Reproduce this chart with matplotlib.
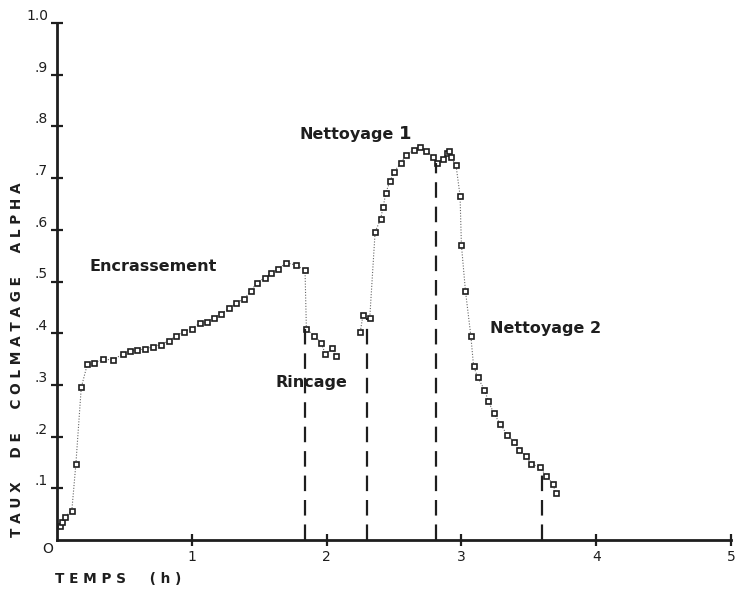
import matplotlib
matplotlib.use("Agg")
import matplotlib.pyplot as plt
from matplotlib import transforms

plt.rcParams["font.family"] = ["DejaVu Sans"]

# fouling + rinsing run (hours, alpha)
foul_t = [0.02, 0.04, 0.06, 0.11, 0.14, 0.18, 0.225, 0.276, 0.343, 0.417, 0.486,
          0.54, 0.59, 0.652, 0.714, 0.77, 0.83, 0.886, 0.94, 0.998, 1.06, 1.11,
          1.163, 1.22, 1.276, 1.33, 1.39, 1.44, 1.48, 1.54, 1.59, 1.64, 1.70,
          1.77, 1.84]
foul_a = [0.027, 0.035, 0.045, 0.057, 0.147, 0.295, 0.340, 0.342, 0.350, 0.348,
          0.360, 0.366, 0.368, 0.369, 0.374, 0.378, 0.385, 0.395, 0.403, 0.409,
          0.419, 0.422, 0.430, 0.438, 0.448, 0.458, 0.467, 0.482, 0.497, 0.507,
          0.516, 0.524, 0.536, 0.532, 0.522]
rinse_t = [1.85, 1.91, 1.96, 1.99, 2.04, 2.07]
rinse_a = [0.408, 0.395, 0.381, 0.360, 0.371, 0.356]

# cleaning run
clean_t = [2.25, 2.27, 2.32, 2.36, 2.40, 2.42, 2.44, 2.47, 2.50, 2.55, 2.59,
           2.65, 2.69, 2.74, 2.79, 2.82, 2.86, 2.89, 2.91, 2.92, 2.96, 2.99,
           3.00, 3.03, 3.07, 3.09, 3.12, 3.17, 3.20, 3.24, 3.29, 3.34, 3.39,
           3.43, 3.48, 3.52, 3.58, 3.63, 3.68, 3.70]
clean_a = [0.403, 0.435, 0.429, 0.596, 0.620, 0.645, 0.672, 0.694, 0.712, 0.729,
           0.745, 0.754, 0.761, 0.753, 0.741, 0.729, 0.737, 0.748, 0.753, 0.741,
           0.725, 0.666, 0.571, 0.482, 0.395, 0.337, 0.315, 0.291, 0.269, 0.245,
           0.224, 0.203, 0.190, 0.175, 0.162, 0.147, 0.141, 0.124, 0.108, 0.090]

# phase boundaries (hours) and height of each dashed marker
bound_t = [1.84, 2.30, 2.81, 3.60]
bound_top = [0.41, 0.43, 0.73, 0.135]

y_ticks = [0.1, 0.2, 0.3, 0.4, 0.5, 0.6, 0.7, 0.8, 0.9, 1.0]
y_tick_labels = [".1", ".2", ".3", ".4", ".5", ".6", ".7", ".8", ".9", "1.0"]
x_ticks = [1, 2, 3, 4, 5]

INK = "#1e1e1e"

fig = plt.figure(figsize=(7.36, 5.92), dpi=100)
ax = fig.add_axes([57 / 736, 52 / 592, 674 / 736, 517 / 592])
ax.set_xlim(0, 5)
ax.set_ylim(0, 1.0)
for s in ["top", "right"]:
    ax.spines[s].set_visible(False)
for s in ["left", "bottom"]:
    ax.spines[s].set_linewidth(2.0)
    ax.spines[s].set_color(INK)

line_kw = dict(color="#666666", lw=0.8, ls=(0, (1, 1.5)), marker="s", ms=3.6,
               mfc="white", mec=INK, mew=1.2, clip_on=False)
ax.plot(foul_t + rinse_t, foul_a + rinse_a, **line_kw)
ax.plot(clean_t, clean_a, **line_kw)

ax.vlines(bound_t, 0, bound_top, colors=INK, lw=1.6, linestyles=(0, (7, 4)))

ax.set_yticks(y_ticks)
ax.set_yticklabels(y_tick_labels, fontsize=10, color=INK)
for lab in ax.get_yticklabels():
    lab.set_verticalalignment("bottom")
ax.set_xticks(x_ticks)
ax.set_xticklabels([str(v) for v in x_ticks], fontsize=10, color=INK)
ax.tick_params(direction="inout", length=9, width=1.6, colors=INK)
ax.tick_params(axis="y", pad=2)
ax.tick_params(axis="x", pad=3)

off = transforms.offset_copy(ax.transData, fig=fig, x=-9, y=-9, units="dots")
ax.text(0, 0, "O", transform=off, ha="center", va="center", fontsize=10, color=INK)

note_kw = dict(fontsize=11.5, fontweight="bold", color=INK)
ax.text(0.24, 0.52, "Encrassement", **note_kw)
ax.text(1.80, 0.775, "Nettoyage", **note_kw)
ax.text(2.54, 0.775, "1", fontsize=13, fontweight="bold", color=INK)
ax.text(1.62, 0.295, "Rincage", **note_kw)
ax.text(3.21, 0.40, "Nettoyage 2", **note_kw)

fig.text(17 / 736, 1 - 360 / 592, "T A U X     D E     C O L M A T A G E     A L P H A",
         rotation=90, ha="center", va="center", fontsize=9.8, fontweight="bold", color=INK)
fig.text(55 / 736, 1 - 579 / 592, "T E M P S     ( h )", ha="left", va="center",
         fontsize=9.8, fontweight="bold", color=INK)

fig.savefig("out.png", dpi=100)
